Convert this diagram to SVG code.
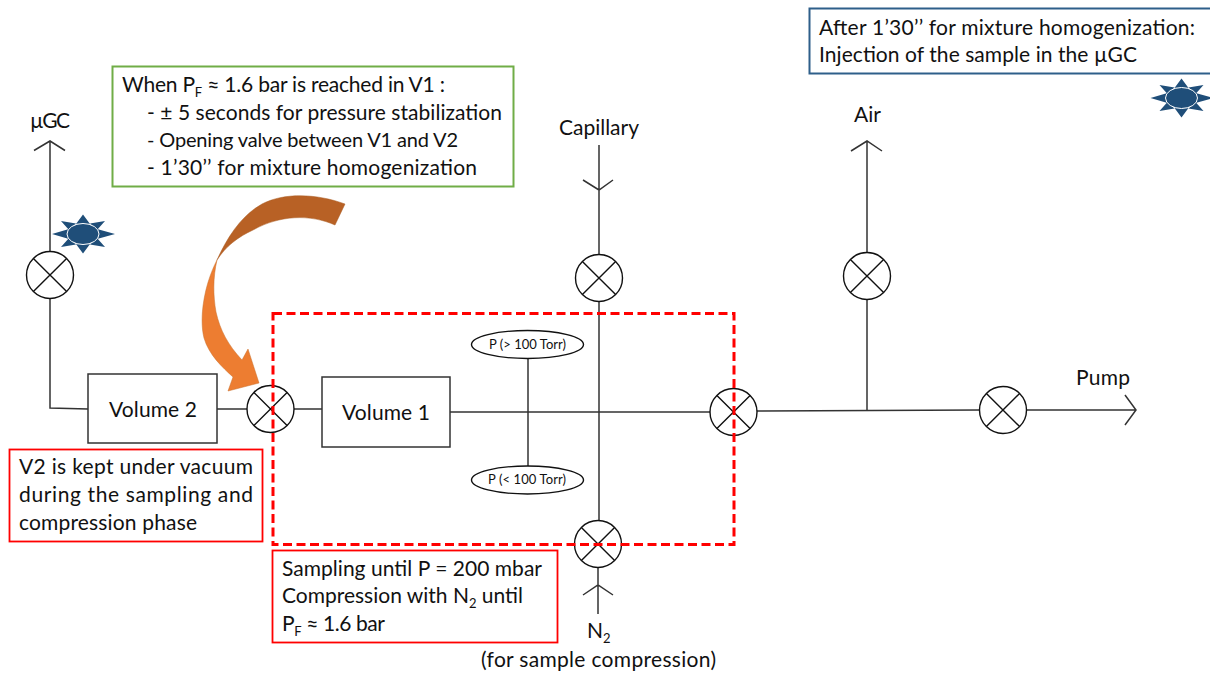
<svg xmlns="http://www.w3.org/2000/svg" width="1210" height="675" viewBox="0 0 1210 675">
<style>
text{font-family:"Lato","Open Sans","Liberation Sans",sans-serif;font-size:21px;fill:#111}
.sm{font-size:13px}
.sub{font-size:13px}
.tight{font-size:20px}
.ln{fill:none;stroke:#333;stroke-width:1.5}
.v{fill:#fff;stroke:#111;stroke-width:1.4}
.x{fill:none;stroke:#111;stroke-width:1.4}
.b{fill:#fff;stroke:#333;stroke-width:1.5}
.sun{fill:#1f4e79}
.core{fill:#1f4e79;stroke:#fff;stroke-width:1}
.redbox{fill:#fff;stroke:#f00;stroke-width:1.8}
</style>
<defs>
<g id="valve"><circle class="v" r="23.5"/><path class="x" d="M-16.6-16.6L16.6 16.6M-16.6 16.6L16.6-16.6"/></g>
<g id="sunshape"><path class="sun" d="M0-19.500L7-10H-7ZM0 19.500L7 10H-7ZM-31 0L-14-5V5ZM32 0L14-5V5ZM-22-13L-7-10.500-14-4ZM22-13L7-10.500 14-4ZM-22 13L-7 10.500-14 4ZM22 13L7 10.500 14 4Z"/><ellipse class="core" rx="16" ry="10.500"/></g>
</defs>
<g id="connectors">
<path class="ln" d="M50 141V408L88 409M34 150.500L50 141 65 150.500"/>
<path class="ln" d="M217 409H247M294 409H322M450 412H711M757 411L980 410M1027 410H1136M1125 395L1136 410 1125 425"/>
<path class="ln" d="M599 145V255M583 180L599 190 613 180M599 302V521M598 567V614M583 595L598 585 613 595"/>
<path class="ln" d="M867 141V410M851 151L867 141 882 151"/>
<path class="ln" d="M528 358V466"/>
</g>
<g id="valve-ugc"><use href="#valve" x="50" y="275"/></g>
<g id="valve-capillary"><use href="#valve" x="599" y="278"/></g>
<g id="valve-air"><use href="#valve" x="867" y="276"/></g>
<g id="valve-v1"><use href="#valve" x="270.500" y="409"/></g>
<g id="valve-out"><use href="#valve" x="733.500" y="412"/></g>
<g id="valve-pump"><use href="#valve" x="1003" y="410"/></g>
<g id="valve-n2"><use href="#valve" x="598" y="544"/></g>
<g id="volume2"><rect class="b" x="88" y="374" width="129" height="69"/><text x="109" y="417" textLength="88">Volume 2</text></g>
<g id="volume1"><rect class="b" x="322" y="377" width="128" height="70"/><text x="342" y="420" textLength="88">Volume 1</text></g>
<g id="gauge-high"><ellipse class="v" cx="527.500" cy="344.500" rx="56" ry="14"/><text class="sm" x="489" y="349" textLength="77">P (&gt; 100 Torr)</text></g>
<g id="gauge-low"><ellipse class="v" cx="527.500" cy="480" rx="56" ry="14"/><text class="sm" x="488" y="484" textLength="78">P (&lt; 100 Torr)</text></g>
<g id="sample-zone"><rect x="273" y="313.500" width="461" height="231" fill="none" stroke="#f00" stroke-width="3" stroke-dasharray="9 4.500"/></g>
<g id="sun-left"><use href="#sunshape" x="83" y="234"/></g>
<g id="sun-right"><use href="#sunshape" x="1181.500" y="98"/></g>
<g id="curved-arrow">
<path fill="#b86125" stroke="#a85a20" stroke-width=".5" d="M345 204C318 194 285 192 262 204C240 216 226 240 217 260C226 246 238 237 253 230C280 215 310 214 335 225Z"/>
<path fill="#ed7d31" stroke="#c8702e" stroke-width=".5" d="M217 260C204 285 199 318 204 338C209 355 222 367 233 377L228 391L259 383L248 349L242 360C228 345 220 330 216 312C213 295 213 277 217 260Z"/>
</g>
<g id="note-green"><rect x="112.500" y="66.500" width="401" height="120" fill="#fff" stroke="#70ad47" stroke-width="2"/>
<text x="122" y="92" textLength="323">When P<tspan class="sub" dy="5">F</tspan><tspan dy="-5"> ≈ 1.6 bar is reached in V1 :</tspan></text>
<text x="147" y="120" textLength="355">- ± 5 seconds for pressure stabilization</text>
<text class="tight" x="147" y="147" textLength="311">- Opening valve between V1 and V2</text>
<text x="147" y="175" textLength="330">- 1’30’’ for mixture homogenization</text></g>
<g id="note-top"><rect x="809.500" y="8.500" width="410" height="65" fill="#fff" stroke="#2e5f8a" stroke-width="2"/>
<text x="819" y="35" textLength="376">After 1’30’’ for mixture homogenization:</text>
<text x="819" y="62" textLength="318">Injection of the sample in the µGC</text></g>
<g id="note-v2"><rect class="redbox" x="9.500" y="449.500" width="253" height="92"/>
<text x="19" y="474" textLength="234">V2 is kept under vacuum</text>
<text x="19" y="502" textLength="234">during the sampling and</text>
<text x="19" y="530" textLength="178">compression phase</text></g>
<g id="note-sampling"><rect class="redbox" x="272.500" y="550.500" width="285" height="92"/>
<text x="282" y="576" textLength="260">Sampling until P = 200 mbar</text>
<text x="282" y="603" textLength="241">Compression with N<tspan class="sub" dy="5">2</tspan><tspan dy="-5"> until</tspan></text>
<text x="282" y="631" textLength="103">P<tspan class="sub" dy="5">F</tspan><tspan dy="-5"> ≈ 1.6 bar</tspan></text></g>
<g id="labels">
<text x="30" y="128" textLength="40">µGC</text>
<text x="559" y="135" textLength="80">Capillary</text>
<text x="854" y="122" textLength="27">Air</text>
<text x="1076" y="385" textLength="54">Pump</text>
<text x="587" y="638">N<tspan class="sub" dy="5">2</tspan></text>
<text x="481" y="667" textLength="235">(for sample compression)</text>
</g>
</svg>
